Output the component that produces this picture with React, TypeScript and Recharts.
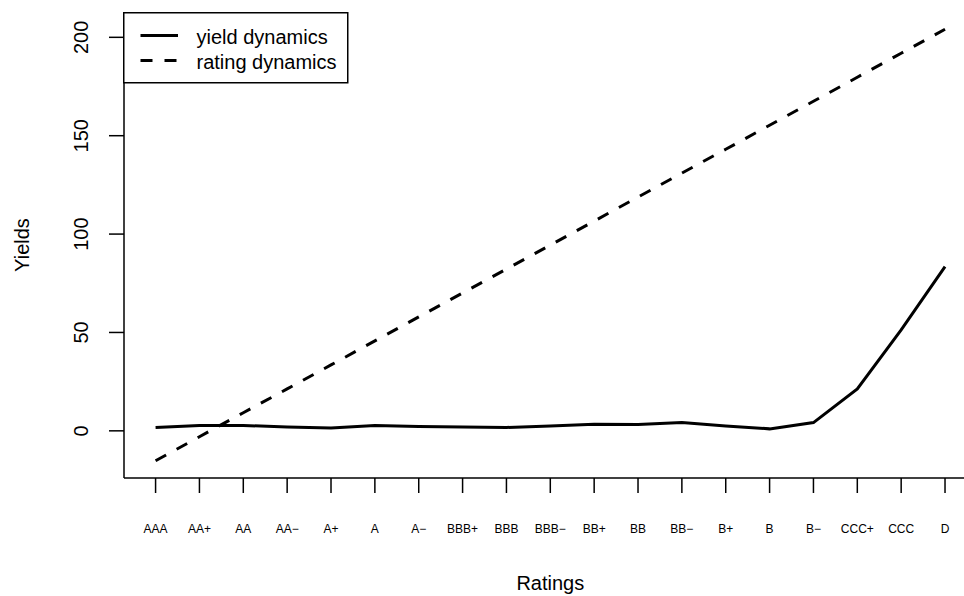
import React from 'react';
import { LineChart, Line, XAxis, YAxis, Legend } from 'recharts';

const categories = ['AAA', 'AA+', 'AA', 'AA\u2212', 'A+', 'A', 'A\u2212', 'BBB+', 'BBB', 'BBB\u2212', 'BB+', 'BB', 'BB\u2212', 'B+', 'B', 'B\u2212', 'CCC+', 'CCC', 'D'];
const yieldDynamics = [1.7, 2.7, 2.7, 2.0, 1.5, 2.7, 2.2, 2.0, 1.7, 2.5, 3.4, 3.2, 4.2, 2.5, 1.0, 4.2, 21.3, 51.3, 83.5];
const ratingDynamics = [-15.2, -3.0, 9.2, 21.3, 33.5, 45.7, 57.9, 70.1, 82.2, 94.4, 106.6, 118.8, 131.0, 143.1, 155.3, 167.5, 179.7, 191.9, 204.1];
const seriesKeys = ['yieldDyn', 'ratingDyn'];
const seriesNames = ['yield dynamics', 'rating dynamics'];
const yTicks = [0, 50, 100, 150, 200];
const xTicks = categories.map((_, i) => i + 1);
const xDomain: [number, number] = [0.28, 19.72];
const yDomain: [number, number] = [-23.97, 212.87];

const FONT = '"Liberation Sans", Arial, Helvetica, sans-serif';

const data = categories.map((c, i) => ({
  idx: i + 1,
  name: c,
  yieldDyn: yieldDynamics[i],
  ratingDyn: ratingDynamics[i],
}));

const DASH = '12 12';

function XTick(props: any) {
  const { x, y, payload } = props;
  return (
    <text x={x} y={y} dy={37.5} textAnchor="middle" fontSize={12} fontFamily={FONT} fill="#000">
      {categories[payload.value - 1]}
    </text>
  );
}

function YTick(props: any) {
  const { x, y, payload } = props;
  const bx = x - 21;
  return (
    <text x={bx} y={y} transform={`rotate(-90, ${bx}, ${y})`} textAnchor="middle" fontSize={20} fontFamily={FONT} fill="#000">
      {payload.value}
    </text>
  );
}

function XTitle(props: any) {
  const vb = props.viewBox || {};
  return (
    <text x={vb.x + vb.width / 2} y={vb.y + vb.height - 5.5} textAnchor="middle" fontSize={20} fontFamily={FONT} fill="#000">
      Ratings
    </text>
  );
}

function YTitle(props: any) {
  const vb = props.viewBox || {};
  const bx = 29;
  const cy = vb.y + vb.height / 2;
  return (
    <text x={bx} y={cy} transform={`rotate(-90, ${bx}, ${cy})`} textAnchor="middle" fontSize={20} fontFamily={FONT} fill="#000">
      Yields
    </text>
  );
}

function LegendBox(props: any) {
  const payload = [...(props.payload || [])].sort(
    (a: any, b: any) => seriesKeys.indexOf(a.dataKey) - seriesKeys.indexOf(b.dataKey)
  );
  return (
    <svg width={226} height={72} style={{ display: 'block' }}>
      <rect x={0.75} y={0.75} width={224} height={70} fill="#fff" stroke="#000" strokeWidth={1.5} />
      {payload.map((entry: any, i: number) => {
        const ly = 23.5 + i * 25;
        const dashed = entry.dataKey === 'ratingDyn';
        return (
          <g key={i}>
            <line x1={17.5} x2={55} y1={ly} y2={ly} stroke="#000" strokeWidth={3} strokeDasharray={dashed ? DASH : undefined} />
            <text x={73.5} y={ly + 8.5} fontSize={20} fontFamily={FONT} fill="#000">
              {entry.value}
            </text>
          </g>
        );
      })}
    </svg>
  );
}

export default function App() {
  return (
    <div style={{ position: 'fixed', left: 0, top: 0, width: 964, height: 596, overflow: 'hidden', background: '#fff' }}>
      <LineChart width={1000} height={596} data={data} margin={{ top: 12, right: 23.4, bottom: 0.5, left: 4 }}>
        <XAxis
          xAxisId="b"
          dataKey="idx"
          type="number"
          domain={xDomain}
          ticks={xTicks}
          interval={0}
          allowDataOverflow
          height={117.5}
          tickSize={15}
          tickMargin={2}
          tick={<XTick />}
          axisLine={{ stroke: '#000', strokeWidth: 1.5 }}
          tickLine={{ stroke: '#000', strokeWidth: 1.5 }}
          label={<XTitle />}
        />
        <XAxis
          xAxisId="t"
          orientation="top"
          type="number"
          domain={xDomain}
          allowDataOverflow
          height={0}
          tick={false}
          tickLine={false}
          axisLine={{ stroke: '#000', strokeWidth: 1.5 }}
        />
        <YAxis
          type="number"
          domain={yDomain}
          ticks={yTicks}
          interval={0}
          allowDataOverflow
          width={120}
          tickSize={15}
          tickMargin={0}
          tick={<YTick />}
          axisLine={{ stroke: '#000', strokeWidth: 1.5 }}
          tickLine={{ stroke: '#000', strokeWidth: 1.5 }}
          label={<YTitle />}
        />
        <Legend
          layout="vertical"
          align="center"
          verticalAlign="middle"
          wrapperStyle={{ left: 123, top: 11.5, width: 226, height: 72 }}
          content={<LegendBox />}
        />
        <Line
          xAxisId="b"
          type="linear"
          dataKey={seriesKeys[0]}
          name={seriesNames[0]}
          stroke="#000"
          strokeWidth={3}
          dot={false}
          activeDot={false}
          isAnimationActive={false}
        />
        <Line
          xAxisId="b"
          type="linear"
          dataKey={seriesKeys[1]}
          name={seriesNames[1]}
          stroke="#000"
          strokeWidth={3}
          strokeDasharray={DASH}
          dot={false}
          activeDot={false}
          isAnimationActive={false}
        />
      </LineChart>
    </div>
  );
}
